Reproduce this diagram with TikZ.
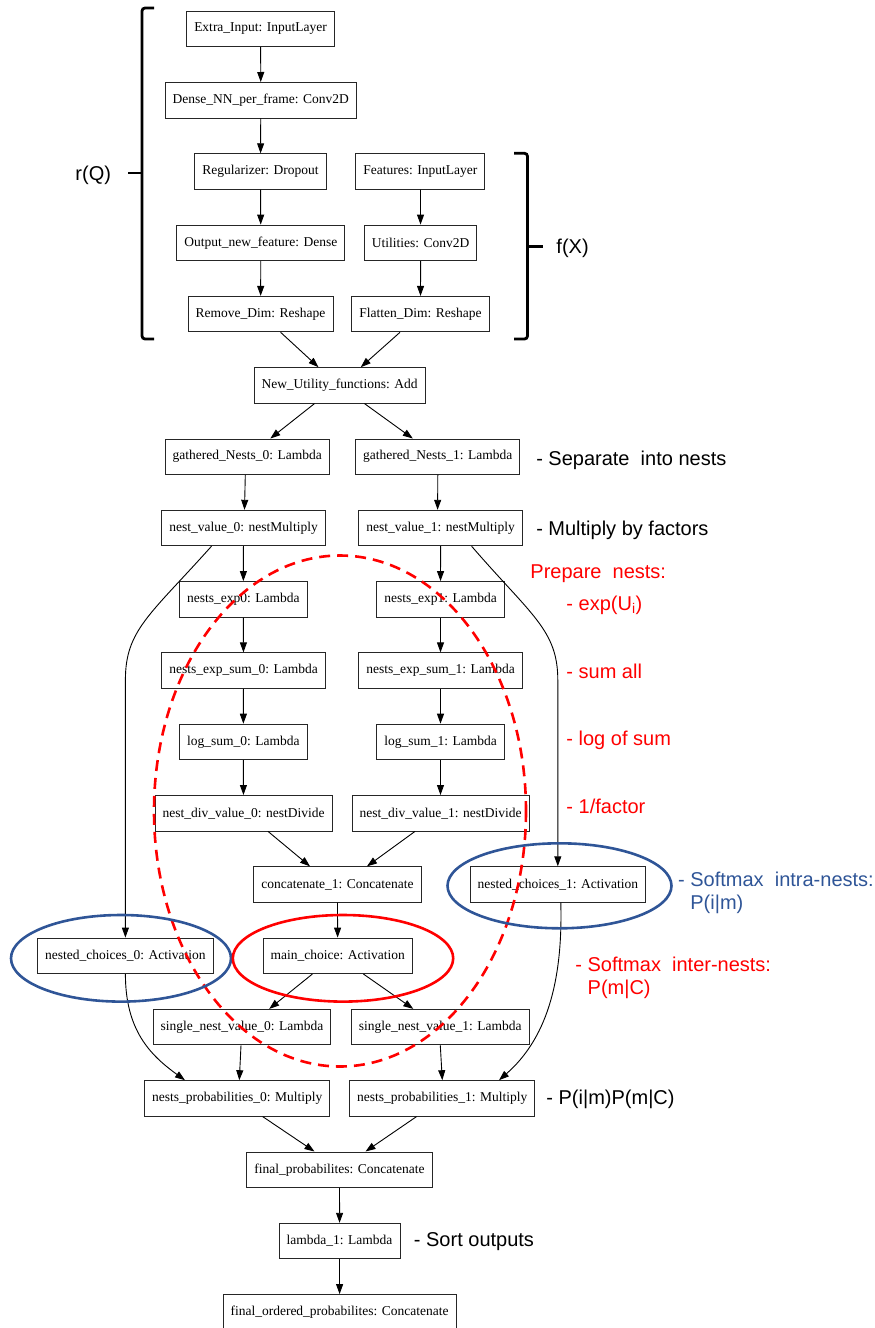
\documentclass[tikz,border=0pt]{standalone}
\usepackage{fontspec}
\setmainfont{Liberation Serif}
\newfontfamily\notefont{Liberation Sans}
\usepackage{tikz}
\usetikzlibrary{shapes,arrows.meta,positioning,calc}
\definecolor{nestblue}{RGB}{47,85,151}
\tikzstyle{layer} = [draw=black!85,rectangle,inner xsep=7.5pt,inner ysep=0pt,minimum height=35.5pt,font=\fontsize{13.5}{16}\selectfont]
\tikzstyle{note} = [anchor=west,inner sep=0pt,align=left,font=\notefont\fontsize{20}{23.5}\selectfont]
\tikzstyle{bracket} = [line width=2.8pt,rounded corners=3pt]
\tikzstyle{ring} = [line width=2.6pt]
\tikzset{>={Triangle[length=10pt,width=7pt]}}

\begin{document}
\begin{tikzpicture}[x=1pt,y=-1pt,line width=0.9pt]
    \useasboundingbox (0,0) rectangle (875,1328);
    % layers
    \node [layer] (extra) at (260.6,28.9) {Extra\_Input: InputLayer};
    \node [layer] (dense) at (260.8,100.2) {Dense\_NN\_per\_frame: Conv2D};
    \node [layer] (reg) at (260.5,171.5) {Regularizer: Dropout};
    \node [layer] (feat) at (420.4,171.5) {Features: InputLayer};
    \node [layer] (outfeat) at (260.8,242.8) {Output\_new\_feature: Dense};
    \node [layer] (util) at (420.6,242.8) {Utilities: Conv2D};
    \node [layer] (remdim) at (260.6,314.1) {Remove\_Dim: Reshape};
    \node [layer] (flatdim) at (420.5,314.1) {Flatten\_Dim: Reshape};
    \node [layer] (newutil) at (339.5,385.4) {New\_Utility\_functions: Add};
    \node [layer] (gath0) at (247.3,456.7) {gathered\_Nests\_0: Lambda};
    \node [layer] (gath1) at (437.8,456.7) {gathered\_Nests\_1: Lambda};
    \node [layer] (nval0) at (243.5,528) {nest\_value\_0: nestMultiply};
    \node [layer] (nval1) at (440.6,528) {nest\_value\_1: nestMultiply};
    \node [layer] (exp0) at (243.3,599.3) {nests\_exp0: Lambda};
    \node [layer] (exp1) at (440.5,599.3) {nests\_exp1: Lambda};
    \node [layer] (esum0) at (243.5,670.6) {nests\_exp\_sum\_0: Lambda};
    \node [layer] (esum1) at (440.5,670.6) {nests\_exp\_sum\_1: Lambda};
    \node [layer] (lsum0) at (243.3,741.9) {log\_sum\_0: Lambda};
    \node [layer] (lsum1) at (440.5,741.9) {log\_sum\_1: Lambda};
    \node [layer] (ndiv0) at (243.5,813.2) {nest\_div\_value\_0: nestDivide};
    \node [layer] (ndiv1) at (440.5,813.2) {nest\_div\_value\_1: nestDivide};
    \node [layer] (concat) at (337.4,884.5) {concatenate\_1: Concatenate};
    \node [layer] (nch1) at (557.8,884.5) {nested\_choices\_1: Activation};
    \node [layer] (nch0) at (125.4,955.8) {nested\_choices\_0: Activation};
    \node [layer] (mainch) at (337.7,955.8) {main\_choice: Activation};
    \node [layer] (snv0) at (242,1027.1) {single\_nest\_value\_0: Lambda};
    \node [layer] (snv1) at (440.3,1027.1) {single\_nest\_value\_1: Lambda};
    \node [layer] (np0) at (237.3,1098.4) {nests\_probabilities\_0: Multiply};
    \node [layer] (np1) at (442.3,1098.4) {nests\_probabilities\_1: Multiply};
    \node [layer] (finprob) at (339.5,1169.7) {final\_probabilites: Concatenate};
    \node [layer] (lam) at (339.6,1241) {lambda\_1: Lambda};
    \node [layer] (finord) at (339.6,1312.3) {final\_ordered\_probabilites: Concatenate};
    % connections
    \draw [->] (extra) -- (dense);
    \draw [->] (dense) -- (reg);
    \draw [->] (reg) -- (outfeat);
    \draw [->] (outfeat) -- (remdim);
    \draw [->] (feat) -- (util);
    \draw [->] (util) -- (flatdim);
    \draw [->] ([xshift=20pt]remdim.south) -- ([xshift=-21pt]newutil.north);
    \draw [->] ([xshift=-20.5pt]flatdim.south) -- ([xshift=21.3pt]newutil.north);
    \draw [->] ([xshift=-25pt]newutil.south) -- ([xshift=23pt]gath0.north);
    \draw [->] ([xshift=25pt]newutil.south) -- ([xshift=-25pt]gath1.north);
    \draw [->] ([xshift=-2pt]gath0.south) -- ([xshift=1pt]nval0.north);
    \draw [->] (gath1.south) -- ([xshift=-3pt]nval1.north);
    \draw [->] (nval0) -- (exp0);
    \draw [->] (exp0) -- (esum0);
    \draw [->] (esum0) -- (lsum0);
    \draw [->] (lsum0) -- (ndiv0);
    \draw [->] (nval1) -- (exp1);
    \draw [->] (exp1) -- (esum1);
    \draw [->] (esum1) -- (lsum1);
    \draw [->] (lsum1) -- (ndiv1);
    \draw [->] ([xshift=-32pt]nval0.south) .. controls (150,615) and (125.4,630) .. (125.4,680) -- (nch0.north);
    \draw [->] ([xshift=31pt]nval1.south) .. controls (531,615) and (557.8,630) .. (557.8,680) -- (nch1.north);
    \draw [->] ([xshift=24.5pt]ndiv0.south) -- ([xshift=-27.4pt]concat.north);
    \draw [->] ([xshift=-25.5pt]ndiv1.south) -- ([xshift=29.6pt]concat.north);
    \draw [->] (concat) -- (mainch);
    \draw [->] ([xshift=-25.3pt]mainch.south) -- ([xshift=27.2pt]snv0.north);
    \draw [->] ([xshift=25.7pt]mainch.south) -- ([xshift=-27pt]snv1.north);
    \draw [->] ([xshift=-1pt]snv0.south) -- ([xshift=2pt]np0.north);
    \draw [->] (snv1.south) -- (np1.north);
    \draw [->] (nch0.south) .. controls (125.4,1030) and (150,1055) .. ([xshift=-52.3pt]np0.north);
    \draw [->] ([xshift=3pt]nch1.south) .. controls (563,985) and (545,1040) .. ([xshift=56.7pt]np1.north);
    \draw [->] ([xshift=25.4pt]np0.south) -- ([xshift=-25pt]finprob.north);
    \draw [->] ([xshift=-25.8pt]np1.south) -- ([xshift=26pt]finprob.north);
    \draw [->] (finprob) -- (lam);
    \draw [->] (lam) -- (finord);
    % brackets
    \draw [bracket] (154,8) -- (142,8) -- (142,339) -- (154,339);
    \draw [bracket] (142,173) -- (128,173);
    \draw [bracket] (514,153.3) -- (527.5,153.3) -- (527.5,339) -- (514,339);
    \draw [bracket] (527.5,246.7) -- (543,246.7);
    \node [note] (rq) at (75,175) {r(Q)};
    \node [note] (fx) at (556,248) {f(X)};
    % notes
    \node [note] (sep) at (535.8,460) {- Separate\ \ into nests};
    \node [note] (mult) at (535.8,530) {- Multiply by factors};
    \node [note,red] (prep) at (530,574) {Prepare\ \ nests:};
    \node [note,red] (nexp) at (566,605) {- exp(U\textsubscript{i})};
    \node [note,red] (nsum) at (566,671.7) {- sum all};
    \node [note,red] (nlog) at (566,740) {- log of sum};
    \node [note,red] (nfac) at (566,806.7) {- 1/factor};
    \node [note,nestblue] (intra) at (677.7,893) {- Softmax\ \ intra-nests:\\\phantom{- }P(i|m)};
    \node [note,red] (inter) at (575,978) {- Softmax\ \ inter-nests:\\\phantom{- }P(m|C)};
    \node [note] (prod) at (546,1099) {- P(i|m)P(m|C)};
    \node [note] (sort) at (413.5,1241.7) {- Sort outputs};
    % rings
    \draw [ring,red,dash pattern=on 11pt off 7pt] (340,811) ellipse [x radius=186,y radius=255.5];
    \draw [ring,nestblue] (559.5,885.8) ellipse [x radius=112,y radius=42.5];
    \draw [ring,nestblue] (121,958.3) ellipse [x radius=110,y radius=43.3];
    \draw [ring,red] (343,958.3) ellipse [x radius=110.2,y radius=43.3];
\end{tikzpicture}
\end{document}
